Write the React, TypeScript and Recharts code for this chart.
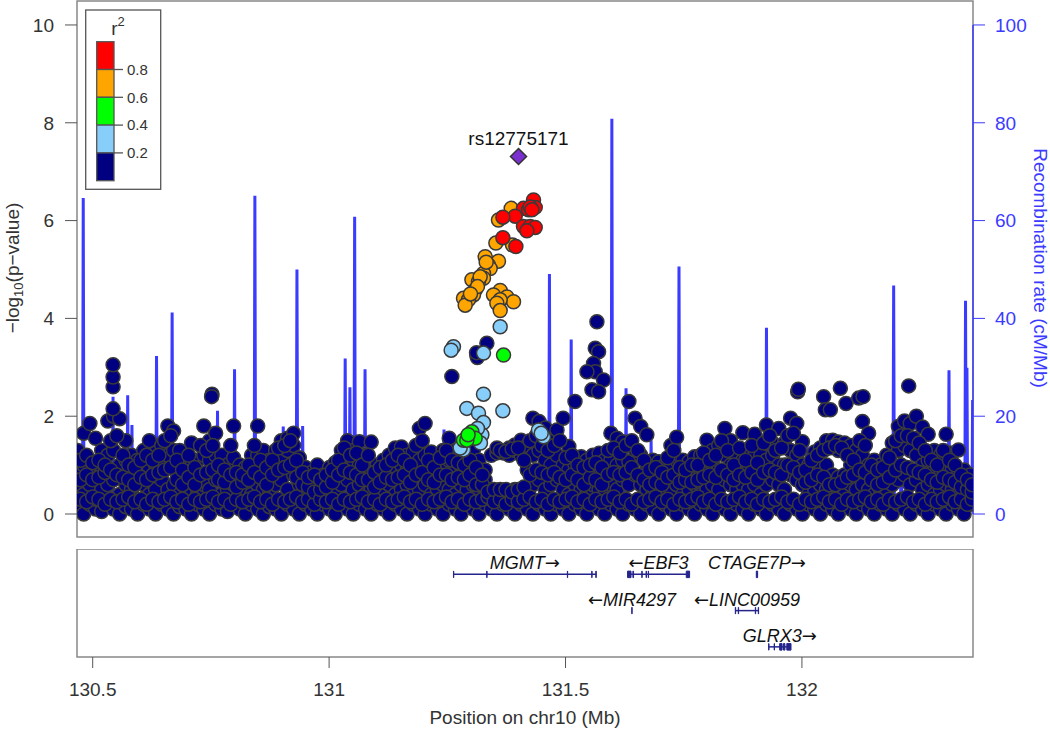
import React from "react";
import { ComposedChart, Scatter, Line, XAxis, YAxis, ReferenceArea, ReferenceLine } from "recharts";

const FONT = "'Liberation Sans', Arial, Helvetica, sans-serif";
const BLUE = "#3b3bff";
const X_MIN = 130.4668;
const X_MAX = 132.3618;
const P_DOMAIN: [number, number] = [-0.47, 10.49];
const RATE_DOMAIN: [number, number] = [-4.7, 104.9];

const pTicks = [0, 2, 4, 6, 8, 10];
const rateTicks = [0, 20, 40, 60, 80, 100];
const posTicks = [130.5, 131, 131.5, 132];

// r2 < 0.2 background SNPs: [position (Mb), -log10 p, ...]
const navyRows: number[][] = [
  [130.468, 0.1, 0.5, 0.9, 1.3], [130.481, 0.0, 0.4, 1.0, 1.65], [130.494, 0.2, 0.6, 1.1, 1.85],
  [130.506, 0.1, 0.3, 0.8, 1.55], [130.519, 0.05, 0.5, 0.9, 1.3], [130.532, 0.2, 0.6, 1.2, 1.9],
  [130.544, 0.1, 0.7, 1.3, 2.0], [130.557, 0.0, 0.4, 1.0, 1.95], [130.57, 0.15, 0.6, 1.1, 1.5],
  [130.582, 0.1, 0.5, 0.9, 1.2], [130.595, 0.0, 0.3, 0.8, 1.1], [130.608, 0.2, 0.6, 1.0, 1.3],
  [130.62, 0.1, 0.4, 0.9, 1.5], [130.633, 0.0, 0.5, 1.0, 1.25], [130.646, 0.2, 0.7, 1.1, 1.4],
  [130.659, 0.1, 0.5, 1.2, 1.8], [130.671, 0.0, 0.6, 1.3, 1.7], [130.684, 0.15, 0.4, 0.9, 1.3],
  [130.697, 0.1, 0.3, 0.8, 1.05], [130.709, 0.0, 0.5, 1.0, 1.45], [130.722, 0.2, 0.4, 0.8, 1.1],
  [130.735, 0.1, 0.6, 1.2, 1.8], [130.747, 0.0, 0.5, 1.1, 1.5], [130.76, 0.2, 0.7, 1.2, 1.65],
  [130.773, 0.1, 0.4, 0.9, 1.2], [130.785, 0.05, 0.5, 0.8, 1.0], [130.798, 0.2, 0.6, 1.15, 1.8],
  [130.811, 0.1, 0.3, 0.7, 1.0], [130.823, 0.0, 0.5, 0.8, 0.95], [130.836, 0.2, 0.4, 0.9, 1.2],
  [130.849, 0.1, 0.6, 1.2, 1.8], [130.861, 0.0, 0.5, 1.0, 1.3], [130.874, 0.15, 0.4, 0.8, 1.1],
  [130.887, 0.1, 0.6, 1.0, 1.3], [130.899, 0.0, 0.7, 1.2, 1.5], [130.912, 0.2, 0.5, 1.3, 1.55],
  [130.925, 0.1, 0.8, 1.4, 1.65], [130.937, 0.0, 0.6, 0.9, 1.15], [130.95, 0.2, 0.4, 0.8, 0.95],
  [130.963, 0.1, 0.3, 0.6, 0.85], [130.975, 0.0, 0.5, 0.7, 1.0], [130.988, 0.2, 0.4, 0.6, 0.8],
  [131.001, 0.1, 0.3, 0.7, 0.95], [131.013, 0.0, 0.5, 0.8, 1.05], [131.026, 0.2, 0.6, 1.0, 1.3],
  [131.039, 0.1, 0.7, 1.2, 1.5], [131.051, 0.0, 0.5, 1.0, 1.3], [131.064, 0.2, 0.6, 1.0, 1.48],
  [131.077, 0.1, 0.4, 0.8, 1.2], [131.089, 0.0, 0.5, 0.9, 1.47], [131.102, 0.2, 0.3, 0.7, 1.0],
  [131.115, 0.1, 0.5, 0.8, 1.1], [131.127, 0.0, 0.6, 0.9, 1.2], [131.14, 0.2, 0.4, 0.9, 1.35],
  [131.153, 0.1, 0.5, 1.0, 1.37], [131.165, 0.0, 0.6, 0.9, 1.2], [131.178, 0.2, 0.4, 0.8, 1.27],
  [131.191, 0.1, 0.5, 1.1, 1.75], [131.203, 0.0, 0.6, 1.2, 1.85], [131.216, 0.2, 0.4, 0.9, 1.27],
  [131.229, 0.1, 0.5, 0.8, 1.1], [131.241, 0.0, 0.6, 1.0, 1.3], [131.254, 0.2, 0.5, 1.1, 1.55],
  [131.267, 0.1, 0.4, 0.9, 1.3], [131.279, 0.0, 0.6, 1.0, 1.25], [131.292, 0.2, 0.5, 0.9, 1.2],
  [131.305, 0.1, 0.6, 1.0, 1.3], [131.317, 0.0, 0.4, 0.8, 1.1], [131.33, 0.2, 0.5, 0.7, 0.9],
  [131.343, 0.1, 0.3, 0.5, 1.2], [131.355, 0.0, 0.4, 1.25, 1.35], [131.368, 0.2, 0.45, 1.25],
  [131.381, 0.1, 0.4, 1.2, 1.35], [131.393, 0.0, 0.5, 1.3, 1.41], [131.406, 0.2, 0.45, 1.2, 1.51],
  [131.419, 0.1, 0.5, 0.9, 1.4], [131.431, 0.0, 0.6, 1.2, 1.96], [131.444, 0.2, 0.7, 1.3, 1.89],
  [131.457, 0.1, 0.5, 1.1, 1.76], [131.469, 0.0, 0.6, 1.0, 1.5], [131.482, 0.2, 0.7, 1.2, 1.72],
  [131.495, 0.1, 0.5, 1.0, 1.96], [131.507, 0.0, 0.4, 0.9, 1.38], [131.52, 0.2, 0.6, 1.0, 2.3],
  [131.533, 0.1, 0.5, 0.9, 1.17], [131.545, 0.0, 0.4, 0.8, 1.1], [131.558, 0.2, 0.6, 1.0, 1.2],
  [131.571, 0.1, 0.5, 0.9, 1.24], [131.583, 0.0, 0.4, 0.8, 1.1], [131.596, 0.2, 0.6, 1.1, 1.65],
  [131.609, 0.1, 0.5, 1.0, 1.55], [131.621, 0.0, 0.7, 1.1, 1.48], [131.634, 0.2, 0.6, 1.07, 2.3],
  [131.647, 0.1, 0.8, 1.31, 1.96], [131.659, 0.0, 0.6, 1.2, 1.79], [131.672, 0.2, 0.5, 1.0, 1.62],
  [131.685, 0.1, 0.4, 0.8, 1.1], [131.697, 0.0, 0.5, 0.9, 1.07], [131.71, 0.2, 0.4, 0.7, 1.0],
  [131.723, 0.1, 0.5, 1.0, 1.4], [131.735, 0.0, 0.6, 1.1, 1.57], [131.748, 0.2, 0.4, 0.8, 1.1],
  [131.761, 0.1, 0.5, 0.9, 1.07], [131.773, 0.0, 0.6, 0.9, 1.17], [131.786, 0.2, 0.4, 0.8, 1.2],
  [131.799, 0.1, 0.5, 1.0, 1.51], [131.811, 0.0, 0.6, 1.0, 1.3], [131.824, 0.2, 0.5, 0.9, 1.4],
  [131.837, 0.1, 0.7, 1.2, 1.75], [131.849, 0.0, 0.6, 1.0, 1.5], [131.862, 0.2, 0.5, 0.9, 1.2],
  [131.875, 0.1, 0.6, 1.1, 1.66], [131.887, 0.0, 0.5, 0.9, 1.3], [131.9, 0.2, 0.6, 1.2, 1.63],
  [131.913, 0.1, 0.4, 0.9, 1.2], [131.925, 0.0, 0.6, 1.1, 1.82], [131.938, 0.2, 0.7, 1.2, 1.45],
  [131.951, 0.1, 0.6, 1.0, 1.75], [131.963, 0.0, 0.5, 1.0, 1.45], [131.976, 0.2, 0.8, 1.3, 1.96],
  [131.989, 0.1, 0.7, 1.2, 1.85], [132.001, 0.0, 0.6, 1.0, 1.48], [132.014, 0.2, 0.4, 0.8, 1.0],
  [132.027, 0.1, 0.5, 0.9, 1.27], [132.039, 0.0, 0.6, 1.0, 1.35], [132.052, 0.2, 0.5, 1.0, 1.5],
  [132.065, 0.1, 0.5, 0.8, 1.51], [132.077, 0.0, 0.4, 0.75, 1.3, 1.47], [132.09, 0.2, 0.5, 0.8, 1.45],
  [132.103, 0.1, 0.6, 1.0, 1.4], [132.115, 0.0, 0.5, 1.1, 1.3], [132.128, 0.2, 0.6, 1.2, 1.89],
  [132.141, 0.1, 0.5, 1.0, 1.65], [132.153, 0.0, 0.4, 0.8, 1.1], [132.166, 0.2, 0.5, 0.9, 1.0],
  [132.179, 0.1, 0.4, 0.8, 1.2], [132.191, 0.0, 0.6, 1.0, 1.45], [132.204, 0.2, 0.7, 1.3, 1.79],
  [132.217, 0.1, 0.8, 1.4, 1.9], [132.229, 0.0, 0.6, 1.3, 1.85], [132.242, 0.2, 0.7, 1.2, 2.0],
  [132.255, 0.1, 0.5, 1.0, 1.78], [132.267, 0.0, 0.6, 1.1, 1.63], [132.28, 0.2, 0.4, 0.9, 1.3],
  [132.293, 0.1, 0.5, 0.8, 1.2], [132.305, 0.0, 0.6, 1.0, 1.63], [132.318, 0.2, 0.5, 0.9, 1.25],
  [132.331, 0.1, 0.4, 0.8, 1.31], [132.343, 0.0, 0.5, 0.7, 0.9], [132.356, 0.2, 0.4, 0.6, 0.8],
];

// more r2 < 0.2 SNPs lying between the rows above
const navyFill: number[][] = [
  [130.474, 0.3, 0.7, 1.1], [130.487, 0.25, 0.8, 1.2], [130.5, 0.35, 0.7, 1.05], [130.513, 0.3, 0.75, 1.1],
  [130.526, 0.2, 0.85, 1.0], [130.538, 0.3, 0.9, 1.5], [130.551, 0.25, 0.8, 1.6], [130.564, 0.3, 0.75, 1.2],
  [130.576, 0.35, 0.7, 1.0], [130.589, 0.25, 0.6, 0.95], [130.602, 0.3, 0.75, 1.1], [130.614, 0.2, 0.7, 1.2],
  [130.627, 0.3, 0.8, 1.1], [130.64, 0.25, 0.85, 1.2], [130.652, 0.3, 0.9, 1.5], [130.665, 0.35, 0.95, 1.6],
  [130.678, 0.25, 0.7, 1.1], [130.69, 0.3, 0.6, 0.9], [130.703, 0.2, 0.75, 1.2], [130.716, 0.3, 0.6, 0.95],
  [130.728, 0.25, 0.8, 1.4], [130.741, 0.3, 0.85, 1.3], [130.754, 0.35, 0.9, 1.4], [130.766, 0.25, 0.7, 1.0],
  [130.779, 0.3, 0.65, 0.9], [130.792, 0.2, 0.8, 1.4], [130.804, 0.3, 0.55, 0.85], [130.817, 0.25, 0.65, 0.8],
  [130.83, 0.3, 0.7, 1.0], [130.842, 0.35, 0.85, 1.4], [130.855, 0.25, 0.75, 1.1], [130.868, 0.3, 0.6, 0.95],
  [130.88, 0.2, 0.8, 1.1], [130.893, 0.3, 0.9, 1.35], [130.906, 0.25, 0.95, 1.4], [130.918, 0.3, 1.0, 1.5],
  [130.931, 0.35, 0.75, 1.1], [130.944, 0.25, 0.6, 0.85], [130.956, 0.3, 0.55, 0.75], [130.969, 0.2, 0.45, 0.8],
  [130.982, 0.3, 0.5, 0.7], [130.994, 0.25, 0.55, 0.8], [131.007, 0.3, 0.65, 0.9], [131.02, 0.2, 0.8, 1.1],
  [131.032, 0.3, 0.9, 1.35], [131.045, 0.25, 0.85, 1.2], [131.058, 0.3, 0.8, 1.25], [131.07, 0.35, 0.7, 1.0],
  [131.083, 0.25, 0.7, 1.2], [131.096, 0.3, 0.55, 0.85], [131.108, 0.2, 0.65, 0.95], [131.121, 0.3, 0.75, 1.0],
  [131.134, 0.25, 0.7, 1.1], [131.146, 0.3, 0.75, 1.2], [131.159, 0.35, 0.8, 1.1], [131.172, 0.25, 0.65, 1.0],
  [131.184, 0.3, 0.8, 1.4], [131.197, 0.2, 0.85, 1.5], [131.21, 0.3, 0.7, 1.1], [131.222, 0.25, 0.65, 0.95],
  [131.235, 0.3, 0.8, 1.15], [131.248, 0.35, 0.8, 1.3], [131.26, 0.25, 0.7, 1.1], [131.273, 0.3, 0.75, 1.05],
  [131.286, 0.2, 0.7, 1.0], [131.298, 0.3, 0.8, 1.1], [131.311, 0.25, 0.6, 0.95], [131.324, 0.3, 0.6, 0.8],
  [131.336, 0.35, 0.45], [131.349, 0.25, 0.5], [131.362, 0.3, 0.5, 1.3], [131.374, 0.2, 0.5, 1.28],
  [131.387, 0.3, 0.45, 1.33], [131.4, 0.25, 0.5, 1.35], [131.412, 0.3, 0.55, 1.1], [131.425, 0.35, 0.8, 1.5],
  [131.438, 0.25, 0.9, 1.6], [131.45, 0.3, 0.85, 1.4], [131.463, 0.2, 0.8, 1.3], [131.476, 0.3, 0.85, 1.4],
  [131.488, 0.25, 0.75, 1.5], [131.501, 0.3, 0.7, 1.15], [131.514, 0.35, 0.8, 1.2], [131.526, 0.25, 0.7, 1.0],
  [131.539, 0.3, 0.6, 0.95], [131.552, 0.2, 0.75, 1.0], [131.564, 0.3, 0.7, 1.05], [131.577, 0.25, 0.6, 0.95],
  [131.59, 0.3, 0.8, 1.3], [131.602, 0.35, 0.85, 1.35], [131.615, 0.25, 0.8, 1.25], [131.628, 0.3, 0.85, 1.4],
  [131.64, 0.2, 0.95, 1.5], [131.653, 0.3, 0.8, 1.3], [131.666, 0.25, 0.7, 1.1], [131.678, 0.3, 0.6, 0.9],
  [131.691, 0.35, 0.65, 0.95], [131.704, 0.25, 0.6, 0.85], [131.716, 0.3, 0.75, 1.15], [131.729, 0.2, 0.8, 1.3],
  [131.742, 0.3, 0.65, 0.95], [131.754, 0.25, 0.7, 0.9], [131.767, 0.3, 0.65, 1.0], [131.78, 0.35, 0.7, 1.0],
  [131.792, 0.25, 0.75, 1.25], [131.805, 0.3, 0.8, 1.1], [131.818, 0.2, 0.75, 1.2], [131.83, 0.3, 0.9, 1.5],
  [131.843, 0.25, 0.8, 1.3], [131.856, 0.3, 0.7, 1.0], [131.868, 0.35, 0.8, 1.35], [131.881, 0.25, 0.75, 1.1],
  [131.894, 0.3, 0.85, 1.4], [131.906, 0.2, 0.7, 1.05], [131.919, 0.3, 0.85, 1.45], [131.932, 0.25, 0.9, 1.6],
  [131.944, 0.3, 0.85, 1.3], [131.957, 0.35, 0.8, 1.35], [131.97, 0.25, 1.0, 1.6], [131.982, 0.3, 0.95, 1.65],
  [131.995, 0.2, 0.85, 1.3], [132.008, 0.3, 0.65, 0.9], [132.02, 0.25, 0.7, 1.1], [132.033, 0.3, 0.8, 1.2],
  [132.046, 0.35, 0.75, 1.3], [132.058, 0.25, 0.6, 1.35], [132.071, 0.3, 0.6, 1.4], [132.084, 0.2, 0.65, 1.35],
  [132.096, 0.3, 0.75, 1.2], [132.109, 0.25, 0.8, 1.1], [132.122, 0.3, 0.9, 1.5], [132.134, 0.35, 0.85, 1.4],
  [132.147, 0.25, 0.7, 1.0], [132.16, 0.3, 0.6, 0.9], [132.172, 0.2, 0.65, 0.95], [132.185, 0.3, 0.75, 1.15],
  [132.198, 0.25, 0.9, 1.5], [132.21, 0.3, 1.0, 1.6], [132.223, 0.35, 0.95, 1.6], [132.236, 0.25, 0.9, 1.55],
  [132.248, 0.3, 0.85, 1.45], [132.261, 0.2, 0.8, 1.3], [132.274, 0.3, 0.7, 1.1], [132.286, 0.25, 0.65, 1.0],
  [132.299, 0.3, 0.75, 1.3], [132.312, 0.35, 0.7, 1.1], [132.324, 0.25, 0.65, 1.0], [132.337, 0.3, 0.55, 0.8],
  [132.35, 0.2, 0.5, 0.7], [132.36, 0.3, 0.45, 0.6],
];

// isolated r2 < 0.2 SNPs above the band
const navyPeaks: [number, number][] = [
  [130.5431, 2.15], [130.5431, 2.6], [130.5431, 2.8], [130.5431, 3.05],
  [130.7524, 2.45], [130.7515, 2.4], [131.2596, 2.81], [131.3337, 3.49],
  [131.3125, 3.25], [131.3135, 3.2], [131.3118, 3.3],
  [131.5664, 3.93], [131.5629, 3.39], [131.5699, 3.32], [131.5592, 3.08], [131.5629, 2.91],
  [131.5453, 2.91], [131.5804, 2.74], [131.5559, 2.54], [131.5699, 2.5],
  [131.991, 2.5], [131.9925, 2.55], [132.0459, 2.4], [132.0495, 2.13], [132.0601, 2.13],
  [132.0813, 2.57], [132.0933, 2.26], [132.12, 2.37], [132.1293, 2.4], [132.2258, 2.62],
];

const lightBlueSnps: [number, number][] = [
  [131.3618, 3.83], [131.263, 3.42], [131.2581, 3.35], [131.3265, 3.29], [131.3265, 2.45],
  [131.2913, 2.16], [131.3159, 2.06], [131.3675, 2.11], [131.3265, 1.87], [131.3231, 1.62],
  [131.2842, 1.31], [131.2772, 1.35], [131.3138, 1.75], [131.3201, 1.45],
  [131.4428, 1.72], [131.4535, 1.58], [131.4486, 1.65],
];

const greenSnps: [number, number][] = [
  [131.3689, 3.25], [131.2842, 1.51], [131.302, 1.68], [131.3089, 1.55], [131.2913, 1.51], [131.294, 1.62],
];

const orangeSnps: [number, number][] = [
  [131.3851, 6.25], [131.3582, 6.01], [131.3527, 5.54], [131.3879, 5.5], [131.3301, 5.26],
  [131.3582, 5.17], [131.3371, 5.09], [131.3407, 5.02], [131.3265, 4.92], [131.3265, 4.82],
  [131.302, 4.79], [131.3159, 4.75], [131.3089, 4.58], [131.3053, 4.48], [131.2842, 4.41],
  [131.2947, 4.38], [131.2878, 4.27], [131.3618, 4.57], [131.3477, 4.48], [131.376, 4.44],
  [131.39, 4.34], [131.3618, 4.38], [131.3548, 4.31], [131.3618, 4.16], [131.3195, 4.85],
  [131.3322, 5.15], [131.3138, 4.65], [131.299, 4.5],
];

const redSnps: [number, number][] = [
  [131.4323, 6.42], [131.4359, 6.27], [131.4111, 6.25], [131.4217, 6.22], [131.4253, 6.28],
  [131.4289, 6.22], [131.3936, 6.09], [131.3675, 6.07], [131.4111, 5.88], [131.4253, 5.88],
  [131.4359, 5.86], [131.4183, 5.79], [131.3675, 5.65], [131.395, 5.47],
];

const leadSnp = { name: "rs12775171", pos: 131.4006, p: 7.31 };

// recombination rate (cM/Mb) along the region
const recombination: [number, number][] = [
  [130.467, 1], [130.4785, 1], [130.48, 64.6], [130.4815, 1], [130.5415, 1], [130.543, 24], [130.5445, 1],
  [130.5725, 1], [130.574, 24.3], [130.5755, 1], [130.5815, 1], [130.583, 18.2], [130.5845, 1],
  [130.6335, 1], [130.635, 32.3], [130.6365, 1], [130.6665, 1], [130.668, 41.2], [130.6695, 1],
  [130.7625, 1], [130.764, 21.1], [130.7655, 1], [130.7985, 1], [130.8, 29.6], [130.8015, 1],
  [130.8415, 1], [130.843, 65.1], [130.8445, 1], [130.9015, 1], [130.903, 17.9], [130.9045, 1],
  [130.9305, 1], [130.932, 50], [130.9335, 1], [130.9425, 1], [130.944, 18], [130.9455, 1],
  [131.0325, 1], [131.034, 31.8], [131.0355, 1], [131.0425, 1], [131.044, 25.9], [131.0455, 1],
  [131.0525, 1], [131.054, 60.8], [131.0555, 1], [131.0745, 1], [131.076, 29.6], [131.0775, 1],
  [131.1455, 1], [131.147, 10.7], [131.1485, 1], [131.1925, 1], [131.194, 14.8], [131.1955, 1],
  [131.2415, 1], [131.243, 17.3], [131.2445, 1], [131.4645, 1], [131.466, 49.1], [131.4675, 1],
  [131.5105, 1], [131.512, 35.7], [131.5135, 1], [131.5965, 1], [131.598, 80.8], [131.5995, 1],
  [131.6265, 1], [131.628, 25.7], [131.6295, 1], [131.6605, 1], [131.662, 13.8], [131.6635, 1],
  [131.6795, 1], [131.681, 15.1], [131.6825, 1], [131.7385, 1], [131.74, 50.6], [131.7415, 1],
  [131.9235, 1], [131.925, 38.1], [131.9265, 1], [132.0095, 1], [132.011, 14.8], [132.0125, 1],
  [132.1925, 1], [132.194, 46.7], [132.1955, 1], [132.2085, 1], [132.21, 19.4], [132.2115, 1],
  [132.2485, 1], [132.25, 13], [132.2515, 1], [132.3095, 1], [132.311, 29.4], [132.3125, 1],
  [132.3445, 1], [132.346, 43.6], [132.3475, 2], [132.349, 29.9], [132.3505, 1],
  [132.3595, 1], [132.361, 23.3], [132.362, 1],
];

const genes = [
  { name: "MGMT", strand: "+", row: 1, start: 131.263, end: 131.5649,
    exons: [[131.263, 131.2636], [131.3334, 131.334], [131.5039, 131.5045], [131.5555, 131.5561], [131.5641, 131.5649]] },
  { name: "EBF3", strand: "-", row: 1, start: 131.6312, end: 131.7624,
    exons: [[131.6312, 131.6385], [131.6425, 131.6439], [131.6614, 131.662], [131.6705, 131.6711], [131.675, 131.6756], [131.7554, 131.7624]] },
  { name: "CTAGE7P", strand: "+", row: 1, start: 131.9035, end: 131.9063, exons: [[131.9035, 131.9063]] },
  { name: "MIR4297", strand: "-", row: 2, start: 131.6402, end: 131.6408, exons: [[131.6402, 131.6408]] },
  { name: "LINC00959", strand: "-", row: 2, start: 131.8591, end: 131.9084,
    exons: [[131.8591, 131.8598], [131.8654, 131.8661], [131.9014, 131.9021], [131.9077, 131.9084]] },
  { name: "GLRX3", strand: "+", row: 3, start: 131.9296, end: 131.9769,
    exons: [[131.9296, 131.9303], [131.9413, 131.942], [131.9529, 131.958], [131.961, 131.964], [131.968, 131.9769]] },
];

const legendColors = ["#FF0000", "#FFA500", "#00FF00", "#87CEFA", "#000080"];
const legendLabels = ["0.8", "0.6", "0.4", "0.2"];

const toPts = (rows: [number, number][]) => rows.map(([pos, p]) => ({ pos, p }));
const fromRows = (rows: number[][]) => rows.flatMap(([pos, ...vals]) => vals.map((p) => ({ pos, p })));
const navyPts = fromRows(navyRows).concat(fromRows(navyFill), toPts(navyPeaks));
const recombData = recombination.map(([pos, rate]) => ({ pos, rate }));

const dot = (fill: string) => (props: any) => {
  if (props.cx == null || props.cy == null) return <g />;
  return <circle cx={props.cx} cy={props.cy} r={7} fill={fill} stroke="#3a3a3a" strokeWidth={1.5} />;
};

const leadShape = (props: any) => {
  const { cx, cy } = props;
  if (cx == null) return <g />;
  return (
    <g>
      <polygon
        points={`${cx},${cy - 8} ${cx + 8},${cy} ${cx},${cy + 8} ${cx - 8},${cy}`}
        fill="#7B2FCF"
        stroke="#333"
        strokeWidth={1.5}
      />
      <text x={cx} y={cy - 12} textAnchor="middle" fontSize={19} fontFamily={FONT} fill="#111">
        {leadSnp.name}
      </text>
    </g>
  );
};

const geneLabel = (props: any) => {
  const { cx, cy, payload } = props;
  if (cx == null) return <g />;
  const arrow = (
    <tspan fontFamily="'DejaVu Sans', sans-serif" fontStyle="normal">
      {payload.strand === "+" ? "→" : "←"}
    </tspan>
  );
  return (
    <text x={cx} y={cy - 5} textAnchor="middle" fontSize={18} fontStyle="italic" fontFamily={FONT} fill="#111">
      {payload.strand === "-" && arrow}
      <tspan>{payload.name}</tspan>
      {payload.strand === "+" && arrow}
    </text>
  );
};

const GENE_COLOR = "#24248c";

export default function App() {
  const geneLabels = genes.map((g) => ({
    pos: (g.start + g.end) / 2,
    row: g.row,
    name: g.name,
    strand: g.strand,
  }));

  return (
    <div style={{ position: "absolute", left: 0, top: 0, width: 1050, height: 730, background: "#fff" }}>
      <div style={{ position: "absolute", left: 0, top: 0 }}>
        <ComposedChart width={1050} height={538} margin={{ top: 1, right: 0, bottom: 1, left: 0 }}>
          <XAxis type="number" dataKey="pos" domain={[X_MIN, X_MAX]} allowDataOverflow hide />
          <YAxis
            yAxisId="left"
            type="number"
            domain={P_DOMAIN}
            allowDataOverflow
            ticks={pTicks}
            width={77}
            axisLine={false}
            tickSize={12}
            tickMargin={11}
            tickLine={{ stroke: "#555" }}
            tick={{ fill: "#333", fontSize: 19, fontFamily: FONT }}
          />
          <YAxis
            yAxisId="right"
            orientation="right"
            type="number"
            domain={RATE_DOMAIN}
            allowDataOverflow
            ticks={rateTicks}
            width={77}
            axisLine={false}
            tickSize={12}
            tickMargin={10}
            tickLine={{ stroke: BLUE }}
            tick={{ fill: BLUE, fontSize: 19, fontFamily: FONT }}
          />
          <Line
            yAxisId="right"
            data={recombData}
            dataKey="rate"
            type="linear"
            stroke={BLUE}
            strokeWidth={3}
            dot={false}
            isAnimationActive={false}
          />
          <Scatter yAxisId="left" data={navyPts} dataKey="p" shape={dot("#000080")} isAnimationActive={false} />
          <Scatter yAxisId="left" data={toPts(lightBlueSnps)} dataKey="p" shape={dot("#87CEFA")} isAnimationActive={false} />
          <Scatter yAxisId="left" data={toPts(greenSnps)} dataKey="p" shape={dot("#00FF00")} isAnimationActive={false} />
          <Scatter yAxisId="left" data={toPts(orangeSnps)} dataKey="p" shape={dot("#FFA500")} isAnimationActive={false} />
          <Scatter yAxisId="left" data={toPts(redSnps)} dataKey="p" shape={dot("#FF0000")} isAnimationActive={false} />
          <Scatter yAxisId="left" data={[{ pos: leadSnp.pos, p: leadSnp.p }]} dataKey="p" shape={leadShape} isAnimationActive={false} />
          <ReferenceArea
            yAxisId="left"
            x1={X_MIN}
            x2={X_MAX}
            y1={P_DOMAIN[0]}
            y2={P_DOMAIN[1]}
            fill="none"
            fillOpacity={0}
            stroke="#888"
            strokeWidth={1.5}
          />
          <ReferenceLine
            yAxisId="right"
            segment={[{ x: X_MAX, y: 0 }, { x: X_MAX, y: 100 }]}
            stroke={BLUE}
            strokeWidth={1.5}
          />
        </ComposedChart>
      </div>

      <div style={{ position: "absolute", left: 0, top: 549 }}>
        <ComposedChart width={1050} height={181} margin={{ top: 0, right: 77, bottom: 0, left: 77 }}>
          <XAxis
            type="number"
            dataKey="pos"
            domain={[X_MIN, X_MAX]}
            allowDataOverflow
            ticks={posTicks}
            height={73}
            axisLine={false}
            tickSize={11}
            tickMargin={15}
            tickLine={{ stroke: "#555" }}
            tick={{ fill: "#333", fontSize: 19, fontFamily: FONT }}
          />
          <YAxis yAxisId="g" type="number" domain={[0.3, 3.28]} reversed allowDataOverflow hide />
          <ReferenceArea
            yAxisId="g"
            x1={X_MIN}
            x2={X_MAX}
            y1={0.3}
            y2={3.28}
            fill="none"
            fillOpacity={0}
            stroke="#888"
            strokeWidth={1.5}
          />
          {genes.map((g) => (
            <Line
              key={g.name}
              yAxisId="g"
              data={[{ pos: g.start, row: g.row }, { pos: g.end, row: g.row }]}
              dataKey="row"
              stroke={GENE_COLOR}
              strokeWidth={1.5}
              dot={false}
              isAnimationActive={false}
            />
          ))}
          {genes.flatMap((g) =>
            g.exons.map(([s, e], i) => (
              <ReferenceArea
                key={`${g.name}-${i}`}
                yAxisId="g"
                x1={s}
                x2={e}
                y1={g.row - 0.09}
                y2={g.row + 0.09}
                fill={GENE_COLOR}
                fillOpacity={1}
                stroke={GENE_COLOR}
                strokeWidth={1}
              />
            ))
          )}
          <Scatter yAxisId="g" data={geneLabels} dataKey="row" shape={geneLabel} isAnimationActive={false} />
        </ComposedChart>
      </div>

      <svg width={1050} height={730} style={{ position: "absolute", left: 0, top: 0, pointerEvents: "none" }}>
        <text
          transform="translate(19, 268) rotate(-90)"
          textAnchor="middle"
          fontSize={19}
          fontFamily={FONT}
          fill="#333"
        >
          −log<tspan fontSize={13} dy={4}>10</tspan>
          <tspan dy={-4}>(p−value)</tspan>
        </text>
        <text
          transform="translate(1034, 268) rotate(90)"
          textAnchor="middle"
          fontSize={19}
          fontFamily={FONT}
          fill={BLUE}
        >
          Recombination rate (cM/Mb)
        </text>
        <text x={525} y={724} textAnchor="middle" fontSize={19} fontFamily={FONT} fill="#333">
          Position on chr10 (Mb)
        </text>

        <rect x={85.7} y={10} width={75} height={179.3} fill="#fff" stroke="#555" strokeWidth={1.3} />
        <text x={118} y={35} textAnchor="middle" fontSize={19} fontFamily={FONT} fill="#333">
          r<tspan fontSize={13} dy={-9}>2</tspan>
        </text>
        {legendColors.map((c, i) => (
          <rect key={c} x={96.7} y={41.7 + i * 27.8} width={17.3} height={27.8} fill={c} stroke="#555" strokeWidth={1.3} />
        ))}
        {legendLabels.map((l, i) => (
          <g key={l}>
            <line x1={114} x2={123} y1={69.5 + i * 27.8} y2={69.5 + i * 27.8} stroke="#555" strokeWidth={1.3} />
            <text x={127} y={69.5 + i * 27.8} dy="0.35em" fontSize={15} fontFamily={FONT} fill="#333">
              {l}
            </text>
          </g>
        ))}
      </svg>
    </div>
  );
}
